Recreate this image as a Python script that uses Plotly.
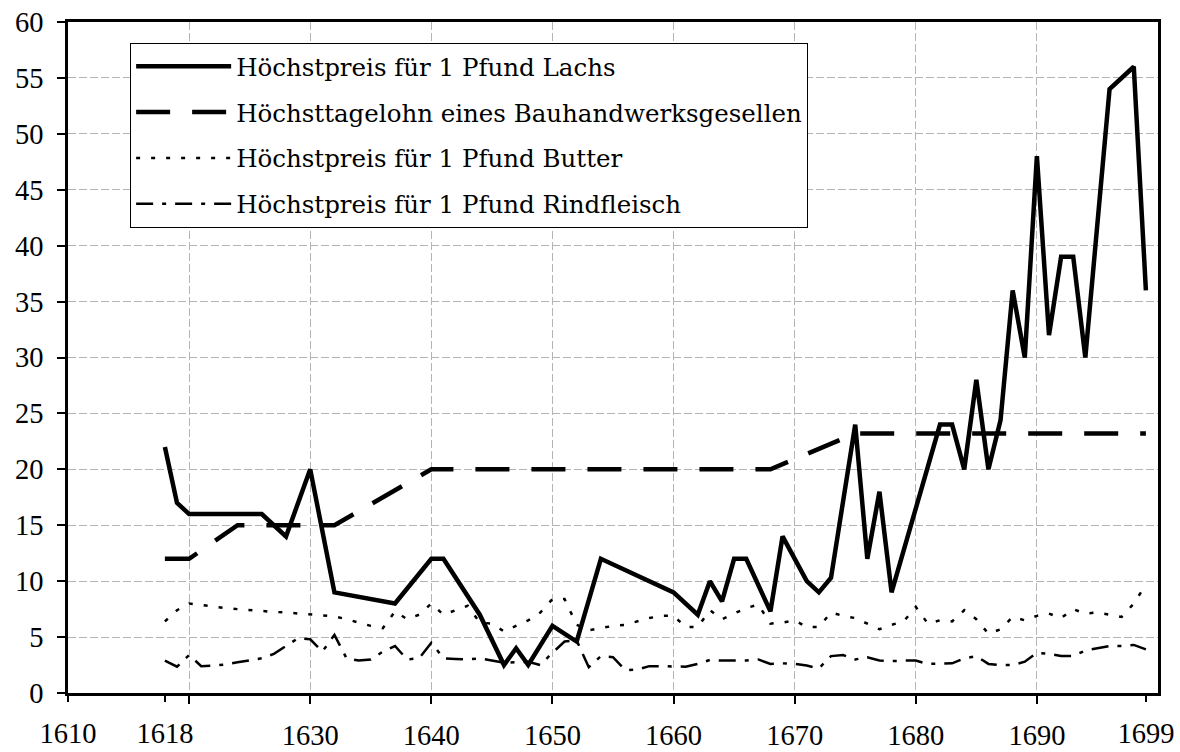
import plotly.graph_objects as go

# ---- data ----
lachs_years = [1618, 1619, 1620, 1626, 1628, 1630, 1632, 1637, 1640, 1641, 1644, 1646, 1647, 1648,
               1650, 1652, 1654, 1660, 1662, 1663, 1664, 1665, 1666, 1668, 1669, 1671, 1672, 1673,
               1675, 1676, 1677, 1678, 1682, 1683, 1684, 1685, 1686, 1687, 1688, 1689, 1690, 1691,
               1692, 1693, 1694, 1696, 1698, 1699]
lachs_values = [22, 17, 16, 16, 14, 20, 9, 8, 12, 12, 7, 2.5, 4, 2.5,
                6, 4.6, 12, 9, 7, 10, 8.2, 12, 12, 7.3, 14, 10, 9, 10.3,
                24, 12, 18, 9, 24, 24, 20, 28, 20, 24.4, 36, 30, 48, 32,
                39, 39, 30, 54, 56, 36]

lohn_years = [1618, 1620, 1624, 1632, 1640, 1668, 1675, 1699]
lohn_values = [12, 12, 15, 15, 20, 20, 23.2, 23.2]

year_range = list(range(1618, 1700))
butter_values = [6.4, 7.4, 8.0, 7.85, 7.7, 7.6, 7.5, 7.4, 7.35, 7.25,
                 7.2, 7.1, 7.0, 6.95, 6.85, 6.6, 6.3, 6.0, 5.8, 7.3,
                 6.6, 7.0, 8.0, 7.0, 7.4, 7.8, 6.3, 6.2, 5.5, 6.0,
                 6.5, 7.2, 8.4, 8.4, 6.1, 5.6, 5.8, 6.0, 6.1, 6.4,
                 6.7, 6.9, 6.9, 5.9, 5.9, 7.4, 6.6, 7.1, 7.6, 7.9,
                 6.2, 6.3, 6.5, 5.9, 5.9, 7.2, 6.9, 6.7, 6.2, 5.7,
                 6.1, 6.4, 7.7, 6.2, 6.5, 6.4, 7.4, 6.6, 5.3, 5.7,
                 6.8, 6.5, 6.9, 7.1, 6.7, 7.5, 7.1, 7.2, 7.0, 6.8,
                 8.0, 9.7]
rind_values = [2.9, 2.35, 3.4, 2.4, 2.45, 2.55, 2.75, 2.9, 3.1, 3.5,
               4.2, 4.9, 4.8, 3.7, 5.2, 3.1, 2.9, 3.0, 3.7, 4.2,
               3.0, 3.1, 4.5, 3.1, 3.05, 3.0, 3.1, 2.9, 2.7, 2.75,
               2.8, 2.5, 3.6, 4.6, 4.7, 2.3, 3.3, 3.2, 2.05, 2.1,
               2.4, 2.4, 2.4, 2.35, 2.6, 2.95, 2.9, 2.9, 2.9, 3.0,
               2.6, 2.65, 2.6, 2.45, 2.2, 3.3, 3.4, 3.0, 3.2, 2.9,
               2.85, 2.9, 2.9, 2.6, 2.6, 2.65, 3.1, 3.3, 2.6, 2.5,
               2.5, 2.8, 3.6, 3.5, 3.3, 3.3, 3.8, 4.0, 4.2, 4.2,
               4.3, 3.9]

names = ["Höchstpreis für 1 Pfund Lachs",
         "Höchsttagelohn eines Bauhandwerksgesellen",
         "Höchstpreis für 1 Pfund Butter",
         "Höchstpreis für 1 Pfund Rindfleisch"]

grid_ticks = [1620, 1630, 1640, 1650, 1660, 1670, 1680, 1690]
grid_labels = ["", "1630", "1640", "1650", "1660", "1670", "1680", "1690"]
extra_ticks = [1610, 1618, 1699]
extra_labels = ["1610", "1618", "1699"]
y_ticks = list(range(0, 61, 5))

FONT = "Liberation Serif, Times New Roman, serif"
LEGEND_FONT = "DejaVu Serif, serif"

fig = go.Figure()
fig.add_trace(go.Scatter(x=lachs_years, y=lachs_values, mode="lines", name=names[0],
                         legendgroup="a", line=dict(color="black", width=4.5)))
fig.add_trace(go.Scatter(x=lohn_years, y=lohn_values, mode="lines", name=names[1],
                         legendgroup="b", line=dict(color="black", width=4.5, dash="34px,22px")))
fig.add_trace(go.Scatter(x=year_range, y=butter_values, mode="lines", name=names[2],
                         legendgroup="c", line=dict(color="black", width=2.5, dash="4px,11px")))
fig.add_trace(go.Scatter(x=year_range, y=rind_values, mode="lines", name=names[3],
                         legendgroup="d", line=dict(color="black", width=2.5, dash="17px,9px,4px,9px")))
# empty trace so that the label-only overlay axis is drawn
fig.add_trace(go.Scatter(x=[], y=[], xaxis="x2", showlegend=False, hoverinfo="skip"))

fig.update_layout(
    width=1180, height=752,
    margin=dict(l=68, r=22, t=22, b=59),
    paper_bgcolor="white", plot_bgcolor="white",
    font=dict(family=FONT, color="black", size=28),
    showlegend=True,
    legend=dict(x=0.057, y=0.969, xanchor="left", yanchor="top",
                bgcolor="white", bordercolor="black", borderwidth=1,
                font=dict(family=LEGEND_FONT, size=24.5, color="black"),
                itemwidth=95, traceorder="grouped", tracegroupgap=11),
    xaxis=dict(range=[1610, 1700], tickmode="array", tickvals=grid_ticks, ticktext=grid_labels,
               showgrid=True, gridcolor="#b4b4b4", gridwidth=1, griddash="8px,3px",
               ticks="outside", ticklen=8, tickcolor="black", tickwidth=1.5,
               showline=True, linecolor="black", linewidth=2.5, mirror=True, automargin=False,
               ticklabeloverflow="allow",
               zeroline=False, tickfont=dict(size=28.5), ticklabelstandoff=7),
    xaxis2=dict(range=[1610, 1700], overlaying="x", anchor="y", side="bottom",
                tickmode="array", tickvals=extra_ticks, ticktext=extra_labels, automargin=False,
                ticklabeloverflow="allow",
                showgrid=False, ticks="outside", ticklen=8, tickcolor="black", tickwidth=1.5,
                showline=False, zeroline=False, tickfont=dict(size=28.5), ticklabelstandoff=7),
    yaxis=dict(range=[0, 60], tickmode="array", tickvals=y_ticks, automargin=False,
               ticklabeloverflow="allow",
               showgrid=True, gridcolor="#b4b4b4", gridwidth=1, griddash="8px,3px",
               ticks="outside", ticklen=8, tickcolor="black", tickwidth=1.5,
               showline=True, linecolor="black", linewidth=2.5, mirror=True,
               zeroline=False, tickfont=dict(size=28.5), ticklabelstandoff=8),
)

# remove the browser's default 8px body margin so the figure sits at the page origin
fig.write_html("out.html", config={"displayModeBar": False},
               post_script="document.body.style.margin='0';document.body.style.overflow='hidden';")
